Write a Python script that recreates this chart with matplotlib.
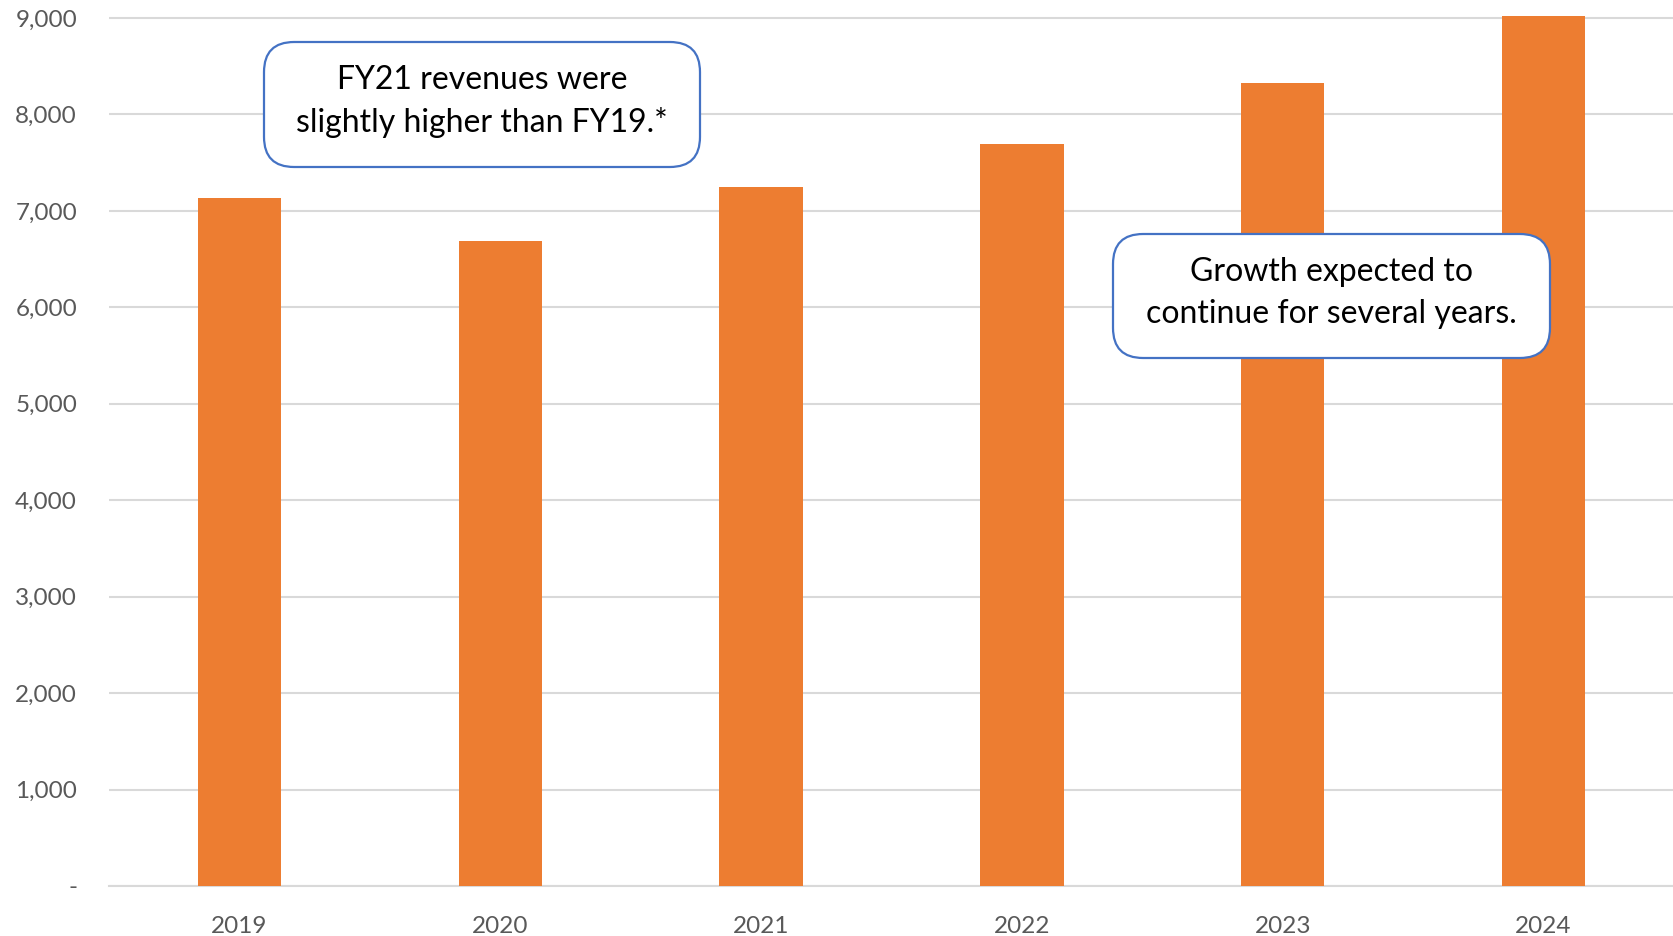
import matplotlib.pyplot as plt
from matplotlib.patches import FancyBboxPatch
from matplotlib.ticker import FuncFormatter

# Data
years = ["2019", "2020", "2021", "2022", "2023", "2024"]
revenue = [7130, 6690, 7245, 7695, 8325, 9020]
y_ticks = [0, 1000, 2000, 3000, 4000, 5000, 6000, 7000, 8000, 9000]
note_left = "FY21 revenues were\nslightly higher than FY19.*"
note_right = "Growth expected to\ncontinue for several years."

plt.rcParams['font.family'] = ['Lato', 'DejaVu Sans']

W, H = 1674, 936
fig = plt.figure(figsize=(W / 100, H / 100), dpi=100)
ax = fig.add_axes([109 / W, 1 - 886 / H, 1 - 109 / W, 886 / H])

x = range(len(years))
ax.bar(x, revenue, width=0.32, color="#ED7D31", zorder=3)

ax.set_xlim(-0.5, len(years) - 0.5)
ax.set_ylim(0, 9187)
ax.set_xticks(list(x))
ax.set_xticklabels(years)
ax.set_yticks(y_ticks)
ax.yaxis.set_major_formatter(FuncFormatter(lambda v, p: "-" if v == 0 else f"{int(v):,}"))

ax.grid(axis="y", color="#D9D9D9", linewidth=1.5, zorder=0)
for s in ["top", "right", "left"]:
    ax.spines[s].set_visible(False)
ax.spines["bottom"].set_color("#D9D9D9")
ax.spines["bottom"].set_linewidth(1.5)
ax.tick_params(axis="both", length=0, labelsize=17.5, labelcolor="#595959")
ax.tick_params(axis="x", pad=21.5)
ax.tick_params(axis="y", pad=23)


# Callout boxes (pixel coords -> figure fraction)
def callout(x0, y0, x1, y1, text):
    box = FancyBboxPatch((x0 / W, 1 - y1 / H), (x1 - x0) / W, (y1 - y0) / H,
                         boxstyle="round,pad=0,rounding_size=0.018",
                         transform=fig.transFigure, facecolor="white",
                         edgecolor="#4472C4", linewidth=1.6, zorder=5,
                         mutation_aspect=W / H)
    fig.add_artist(box)
    fig.text((x0 + x1) / 2 / W, 1 - ((y0 + y1) / 2 - 3) / H, text, ha="center", va="center",
             fontsize=23, color="black", linespacing=1.5, zorder=6)


callout(264, 42, 700, 167, note_left)
callout(1113, 234, 1550, 358, note_right)

fig.savefig("out.png", dpi=100)
